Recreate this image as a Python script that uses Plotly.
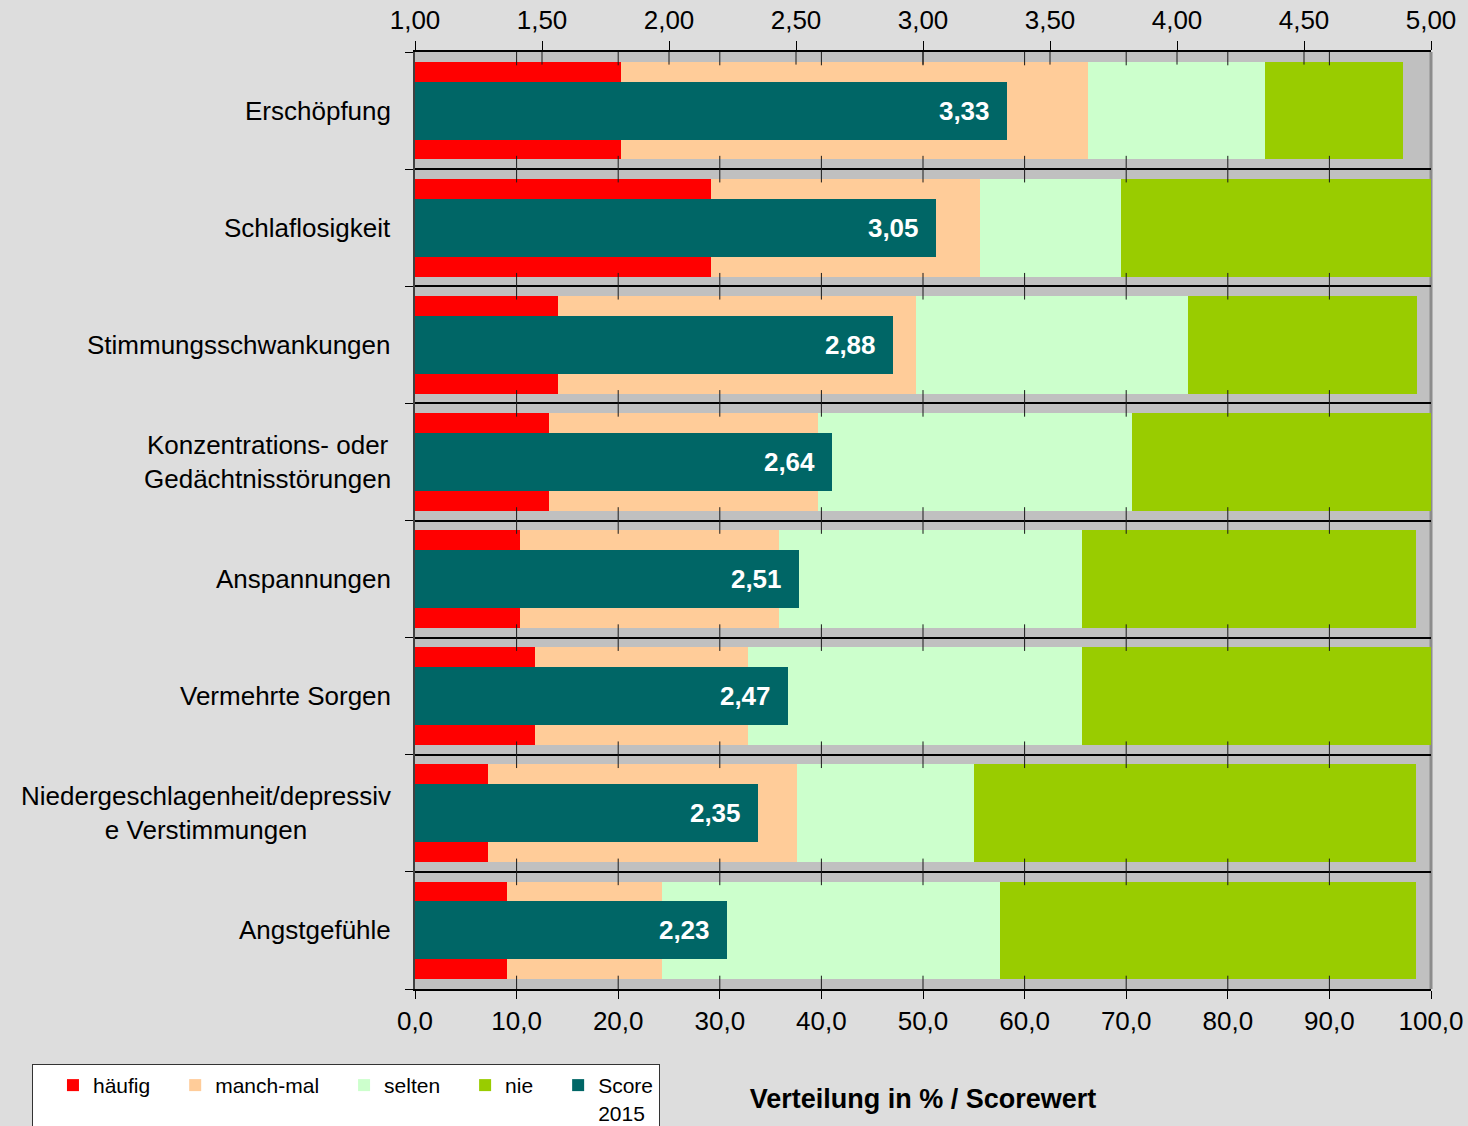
import plotly.graph_objects as go

# ---------------- data ----------------
categories = [
    "Erschöpfung",
    "Schlaflosigkeit",
    "Stimmungsschwankungen",
    "Konzentrations- oder<br>Gedächtnisstörungen",
    "Anspannungen",
    "Vermehrte Sorgen",
    "Niedergeschlagenheit/depressiv<br>e Verstimmungen",
    "Angstgefühle",
]
haeufig = [20.3, 29.1, 14.1, 13.2, 10.3, 11.8, 7.2, 9.1]
manchmal = [45.9, 26.5, 35.2, 26.5, 25.5, 21.0, 30.4, 15.2]
selten = [17.5, 13.9, 26.8, 30.9, 29.8, 32.8, 17.4, 33.3]
nie = [13.5, 30.5, 22.5, 29.4, 32.9, 34.4, 43.5, 40.9]
score_2015 = [3.33, 3.05, 2.88, 2.64, 2.51, 2.47, 2.35, 2.23]

series_names = ["häufig", "manch-mal", "selten", "nie"]
series_colors = ["#FF0000", "#FFCC99", "#CCFFCC", "#99CC00"]
score_name = "Score<br>2015"
score_color = "#006666"

pct_ticks = [0, 10, 20, 30, 40, 50, 60, 70, 80, 90, 100]
score_ticks = [1.0, 1.5, 2.0, 2.5, 3.0, 3.5, 4.0, 4.5, 5.0]
x_title = "Verteilung in % / Scorewert"

FONT = "Liberation Sans, Arial, sans-serif"

ypos = list(range(len(categories)))
boundaries = [i - 0.5 for i in range(len(categories) + 1)]

fig = go.Figure()

for name, vals, col in zip(series_names, [haeufig, manchmal, selten, nie], series_colors):
    fig.add_trace(go.Bar(
        y=ypos, x=vals, name=name, orientation="h",
        marker=dict(color=col, line=dict(width=0)),
        width=0.835, xaxis="x", yaxis="y",
    ))

# small crossing tick marks along each category boundary line
tx, ty = [], []
for b in boundaries:
    for t in pct_ticks[1:-1]:
        tx.append(t)
        ty.append(b)
fig.add_trace(go.Scatter(
    x=tx, y=ty, mode="markers", showlegend=False, hoverinfo="skip",
    marker=dict(symbol="line-ns", size=19, color="#1a1a1a",
                line=dict(width=1, color="#1a1a1a")),
    xaxis="x", yaxis="y",
))

score_labels = [f"{s:.2f}".replace(".", ",") + "\u00a0\u00a0" for s in score_2015]
fig.add_trace(go.Bar(
    y=ypos, x=[s - score_ticks[0] for s in score_2015], base=score_ticks[0],
    name=score_name, orientation="h",
    marker=dict(color=score_color, line=dict(width=0)),
    width=0.496, xaxis="x2", yaxis="y",
    text=score_labels, textposition="inside", insidetextanchor="end",
    textfont=dict(family=FONT, size=26, color="white", weight="bold"),
    constraintext="none",
))

# top-axis crossing ticks (inside part)
fig.add_trace(go.Scatter(
    x=score_ticks[1:-1], y=[boundaries[0]] * (len(score_ticks) - 2),
    mode="markers", showlegend=False, hoverinfo="skip",
    marker=dict(symbol="line-ns", size=18, color="#1a1a1a",
                line=dict(width=1, color="#1a1a1a")),
    xaxis="x2", yaxis="y",
))

# category labels (centered multi-line, right aligned to axis)
for y, cat in zip(ypos, categories):
    fig.add_annotation(
        x=0, xref="paper", y=y, yref="y", text=cat, showarrow=False,
        xanchor="right", yanchor="middle", align="center", xshift=-22,
        font=dict(family=FONT, size=26, color="black"),
    )

# right border of plot area
fig.add_shape(type="line", xref="x domain", yref="y domain", x0=1, x1=1, y0=0, y1=1,
              line=dict(color="#8C8C8C", width=3), layer="below")

fig.update_layout(
    width=1468, height=1126,
    margin=dict(l=415, r=37, t=52, b=137, autoexpand=False),
    paper_bgcolor="#DDDDDD", plot_bgcolor="#C0C0C0",
    barmode="stack", bargap=0,
    separators=",.",
    font=dict(family=FONT, size=26, color="black"),
    xaxis=dict(
        range=[pct_ticks[0], pct_ticks[-1]], tickmode="array", tickvals=pct_ticks,
        tickformat=".1f", ticks="outside", ticklen=8, tickcolor="black", tickwidth=1,
        showline=True, linecolor="black", linewidth=1.5, showgrid=False, zeroline=False,
        tickfont=dict(size=26), ticklabelstandoff=0,
        title=dict(text=x_title, font=dict(size=27, weight="bold"), standoff=54),
    ),
    xaxis2=dict(
        range=[score_ticks[0], score_ticks[-1]], tickmode="array", tickvals=score_ticks,
        tickformat=".2f", overlaying="x", side="top", anchor="y",
        ticks="outside", ticklen=9, tickcolor="black", tickwidth=1,
        showline=True, linecolor="black", linewidth=1.5, showgrid=False, zeroline=False,
        tickfont=dict(size=26), ticklabelstandoff=2,
    ),
    yaxis=dict(
        range=[boundaries[-1], boundaries[0]], tickmode="array", tickvals=boundaries,
        showticklabels=False, ticks="outside", ticklen=8, tickcolor="black",
        showgrid=True, gridcolor="black", gridwidth=1.5, zeroline=False,
        showline=True, linecolor="#404040", linewidth=2,
    ),
    legend=dict(
        orientation="h", x=-0.377, xanchor="left", y=-0.080, yanchor="top",
        bgcolor="white", bordercolor="#333333", borderwidth=1,
        font=dict(size=21), valign="top", traceorder="normal", indentation=20,
    ),
    showlegend=True,
)

fig.write_html(
    "out.html",
    config={"displayModeBar": False},
    post_script="document.body.style.margin='0';document.body.style.background='#DDDDDD';",
)
